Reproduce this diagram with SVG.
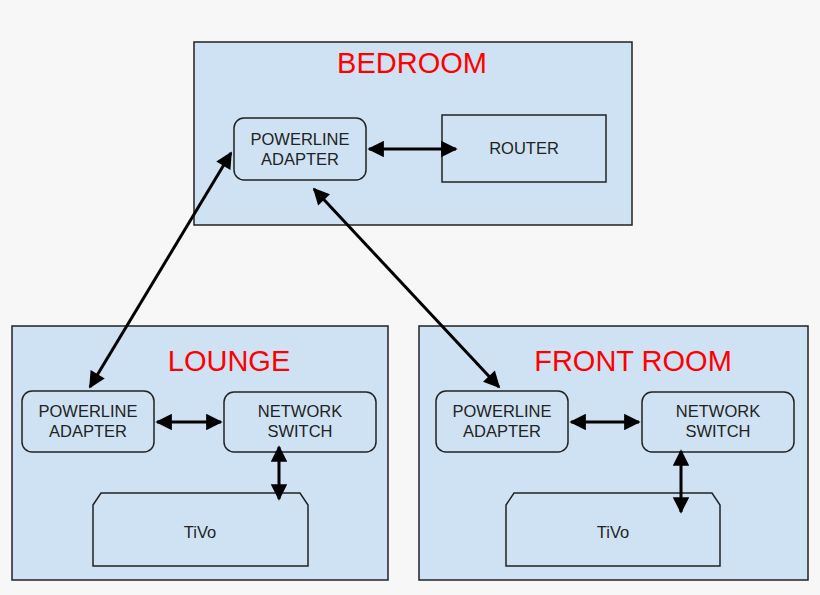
<svg xmlns="http://www.w3.org/2000/svg" width="820" height="595" viewBox="0 0 820 595">
<style>
.room{fill:#cfe2f3;stroke:#222;stroke-width:1.5}
.box{fill:#cfe2f3;stroke:#222;stroke-width:1.5}
.t{font-family:"Liberation Sans",Arial,sans-serif;font-size:16.5px;fill:#222;text-anchor:middle}
.h{font-family:"Liberation Sans",Arial,sans-serif;font-size:29px;fill:#ff0000;text-anchor:middle}
.c{stroke:#000;stroke-width:3;fill:none;marker-start:url(#a);marker-end:url(#a)}
</style>
<defs><marker id="a" viewBox="0 0 10 10" refX="9" refY="5" markerWidth="6" markerHeight="5.5" orient="auto-start-reverse" markerUnits="strokeWidth"><path d="M0,0L10,5L0,10z" fill="#000"/></marker></defs>
<rect width="820" height="595" fill="#f7f7f7"/>
<g id="bedroom"><rect class="room" x="194" y="42" width="438" height="183"/><text class="h" x="412" y="73">BEDROOM</text></g>
<g id="lounge"><rect class="room" x="12" y="326" width="376" height="254"/><text class="h" x="229" y="371">LOUNGE</text></g>
<g id="frontroom"><rect class="room" x="419" y="326" width="389" height="254"/><text class="h" x="633" y="371">FRONT ROOM</text></g>
<g id="bed-pa"><rect class="box" x="234" y="118" width="132" height="62" rx="10"/><text class="t" x="300" y="145">POWERLINE</text><text class="t" x="300" y="165">ADAPTER</text></g>
<g id="router"><rect class="box" x="442" y="115" width="164" height="67"/><text class="t" x="524" y="154">ROUTER</text></g>
<g id="lounge-pa"><rect class="box" x="22" y="391" width="132" height="61" rx="10"/><text class="t" x="88" y="417">POWERLINE</text><text class="t" x="88" y="437">ADAPTER</text></g>
<g id="lounge-ns"><rect class="box" x="224" y="392" width="152" height="60" rx="10"/><text class="t" x="300" y="417">NETWORK</text><text class="t" x="300" y="437">SWITCH</text></g>
<g id="lounge-tivo"><path class="box" d="M93,505L101,493H300L308,505V566H93Z"/><text class="t" x="200" y="538">TiVo</text></g>
<g id="front-pa"><rect class="box" x="436" y="391" width="132" height="61" rx="10"/><text class="t" x="502" y="417">POWERLINE</text><text class="t" x="502" y="437">ADAPTER</text></g>
<g id="front-ns"><rect class="box" x="642" y="392" width="152" height="60" rx="10"/><text class="t" x="718" y="417">NETWORK</text><text class="t" x="718" y="437">SWITCH</text></g>
<g id="front-tivo"><path class="box" d="M506,505L514,493H712L720,505V566H506Z"/><text class="t" x="613" y="538">TiVo</text></g>
<g id="connectors">
<line class="c" x1="369" y1="149" x2="456" y2="149"/>
<line class="c" x1="231" y1="153" x2="90" y2="387"/>
<line class="c" x1="314" y1="189" x2="499" y2="387"/>
<line class="c" x1="157" y1="422" x2="221" y2="422"/>
<line class="c" x1="279" y1="447" x2="279" y2="499"/>
<line class="c" x1="571" y1="422" x2="639" y2="422"/>
<line class="c" x1="681" y1="451" x2="681" y2="512"/>
</g>
</svg>
